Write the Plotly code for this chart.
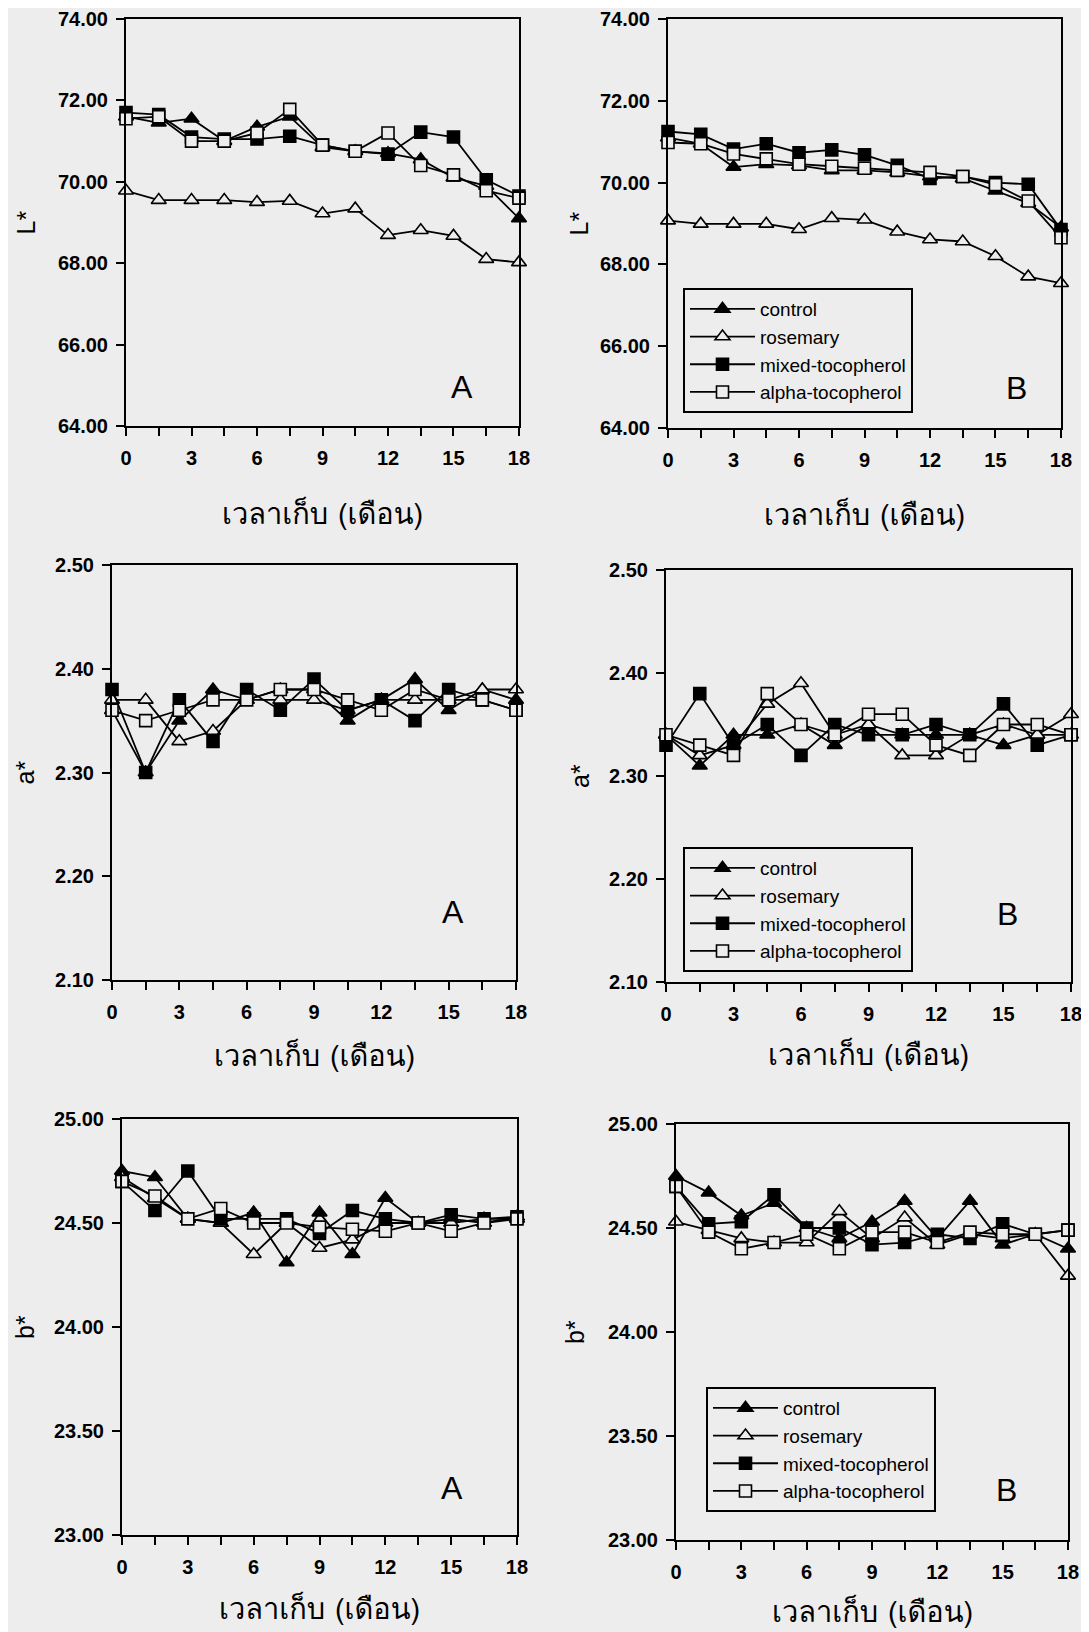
import plotly.graph_objects as go

# ---------------- data ----------------
months = [0, 1.5, 3, 4.5, 6, 7.5, 9, 10.5, 12, 13.5, 15, 16.5, 18]
series_names = ["control", "rosemary", "mixed-tocopherol", "alpha-tocopherol"]

# L* panel A
L_A_control  = [71.60, 71.45, 71.55, 71.00, 71.35, 71.60, 70.85, 70.75, 70.70, 70.55, 70.10, 69.90, 69.10]
L_A_rosemary = [69.78, 69.55, 69.55, 69.55, 69.50, 69.53, 69.22, 69.34, 68.69, 68.81, 68.67, 68.10, 68.02]
L_A_mixed    = [71.70, 71.65, 71.10, 71.05, 71.05, 71.12, 70.90, 70.75, 70.68, 71.22, 71.10, 70.05, 69.65]
L_A_alpha    = [71.55, 71.60, 71.00, 71.00, 71.20, 71.78, 70.90, 70.75, 71.20, 70.40, 70.17, 69.78, 69.60]
# L* panel B
L_B_control  = [71.10, 70.95, 70.38, 70.45, 70.42, 70.30, 70.30, 70.25, 70.15, 70.10, 69.80, 69.50, 68.90]
L_B_rosemary = [69.07, 68.99, 68.99, 68.99, 68.86, 69.13, 69.09, 68.80, 68.61, 68.56, 68.20, 67.70, 67.54]
L_B_mixed    = [71.25, 71.18, 70.82, 70.95, 70.73, 70.80, 70.68, 70.42, 70.10, 70.15, 70.00, 69.96, 68.85]
L_B_alpha    = [70.98, 70.95, 70.70, 70.58, 70.45, 70.40, 70.35, 70.30, 70.25, 70.15, 69.95, 69.55, 68.65]
# a* panel A
a_A_control  = [2.36, 2.30, 2.35, 2.38, 2.37, 2.38, 2.38, 2.35, 2.37, 2.39, 2.36, 2.38, 2.37]
a_A_rosemary = [2.37, 2.37, 2.33, 2.34, 2.37, 2.37, 2.37, 2.36, 2.37, 2.37, 2.37, 2.38, 2.38]
a_A_mixed    = [2.38, 2.30, 2.37, 2.33, 2.38, 2.36, 2.39, 2.36, 2.37, 2.35, 2.38, 2.37, 2.36]
a_A_alpha    = [2.36, 2.35, 2.36, 2.37, 2.37, 2.38, 2.38, 2.37, 2.36, 2.38, 2.37, 2.37, 2.36]
# a* panel B
a_B_control  = [2.34, 2.31, 2.34, 2.34, 2.35, 2.33, 2.35, 2.34, 2.34, 2.34, 2.33, 2.34, 2.34]
a_B_rosemary = [2.34, 2.32, 2.33, 2.37, 2.39, 2.34, 2.35, 2.32, 2.32, 2.34, 2.35, 2.34, 2.36]
a_B_mixed    = [2.33, 2.38, 2.33, 2.35, 2.32, 2.35, 2.34, 2.34, 2.35, 2.34, 2.37, 2.33, 2.34]
a_B_alpha    = [2.34, 2.33, 2.32, 2.38, 2.35, 2.34, 2.36, 2.36, 2.33, 2.32, 2.35, 2.35, 2.34]
# b* panel A
b_A_control  = [24.75, 24.72, 24.52, 24.50, 24.55, 24.31, 24.55, 24.35, 24.62, 24.50, 24.52, 24.50, 24.53]
b_A_rosemary = [24.72, 24.62, 24.52, 24.50, 24.35, 24.50, 24.38, 24.42, 24.50, 24.50, 24.50, 24.52, 24.52]
b_A_mixed    = [24.70, 24.56, 24.75, 24.52, 24.52, 24.52, 24.45, 24.56, 24.52, 24.50, 24.54, 24.52, 24.53]
b_A_alpha    = [24.70, 24.63, 24.52, 24.57, 24.50, 24.50, 24.48, 24.47, 24.46, 24.50, 24.46, 24.50, 24.52]
# b* panel B
b_B_control  = [24.75, 24.67, 24.56, 24.62, 24.50, 24.45, 24.53, 24.63, 24.45, 24.63, 24.42, 24.47, 24.40]
b_B_rosemary = [24.53, 24.49, 24.45, 24.43, 24.43, 24.58, 24.45, 24.55, 24.42, 24.47, 24.45, 24.47, 24.27]
b_B_mixed    = [24.70, 24.52, 24.53, 24.66, 24.50, 24.50, 24.42, 24.43, 24.47, 24.45, 24.52, 24.47, 24.49]
b_B_alpha    = [24.70, 24.48, 24.40, 24.43, 24.47, 24.40, 24.48, 24.48, 24.43, 24.48, 24.47, 24.47, 24.49]

x_tickvals = months
x_ticktext = ["0", "", "3", "", "6", "", "9", "", "12", "", "15", "", "18"]
L_ticks = [64, 66, 68, 70, 72, 74]
a_ticks = [2.10, 2.20, 2.30, 2.40, 2.50]
b_ticks = [23.00, 23.50, 24.00, 24.50, 25.00]

x_title = "เวลาเก็บ (เดือน)"

# ---------------- layout constants ----------------
W, H = 1089, 1632
BG = "#ededed"
OFF = 8  # page body margin compensation (px)

panels = [
    dict(data=[L_A_control, L_A_rosemary, L_A_mixed, L_A_alpha], yt=L_ticks, yt_title="L*", letter="A",
         xpx=(126, 519), ypx=(19, 426), leg=None, lpos=(0.855, 0.096), ytx=25, xto=88),
    dict(data=[L_B_control, L_B_rosemary, L_B_mixed, L_B_alpha], yt=L_ticks, yt_title="L*", letter="B",
         xpx=(668, 1061), ypx=(19, 428), leg="legend", lpos=(0.886, 0.098), ytx=578, xto=87),
    dict(data=[a_A_control, a_A_rosemary, a_A_mixed, a_A_alpha], yt=a_ticks, yt_title="a*", letter="A",
         xpx=(112, 516), ypx=(565, 980), leg=None, lpos=(0.845, 0.164), ytx=24, xto=76),
    dict(data=[a_B_control, a_B_rosemary, a_B_mixed, a_B_alpha], yt=a_ticks, yt_title="a*", letter="B",
         xpx=(666, 1071), ypx=(570, 982), leg="legend2", lpos=(0.843, 0.166), ytx=580, xto=73),
    dict(data=[b_A_control, b_A_rosemary, b_A_mixed, b_A_alpha], yt=b_ticks, yt_title="b*", letter="A",
         xpx=(122, 517), ypx=(1119, 1535), leg=None, lpos=(0.835, 0.113), ytx=25, xto=74),
    dict(data=[b_B_control, b_B_rosemary, b_B_mixed, b_B_alpha], yt=b_ticks, yt_title="b*", letter="B",
         xpx=(676, 1068), ypx=(1124, 1540), leg="legend3", lpos=(0.843, 0.12), ytx=575, xto=72),
]

styles = [
    dict(symbol="triangle-up", color="black"),
    dict(symbol="triangle-up", color=BG),
    dict(symbol="square", color="black"),
    dict(symbol="square", color=BG),
]

legend_pos = {
    "legend": (683, 288),
    "legend2": (683, 847),
    "legend3": (706, 1387),
}


def px_x(v):
    return (v - OFF) / W


def px_y(v):
    return 1 - (v - OFF) / H


fig = go.Figure()
SANS = "Liberation Sans, Arial, sans-serif"
TICK_FONT = dict(family=SANS, size=20, color="black", weight="bold")
THAI_FONT = "Loma, Garuda, Noto Sans Thai Looped, Noto Sans Thai, Tahoma, Liberation Sans, sans-serif"
annotations = []

for i, p in enumerate(panels):
    n = i + 1
    xa = "x" if n == 1 else f"x{n}"
    ya = "y" if n == 1 else f"y{n}"
    leg = p["leg"]
    for vals, st, name in zip(p["data"], styles, series_names):
        fig.add_trace(go.Scatter(
            x=months, y=vals, mode="lines+markers", name=name,
            xaxis=xa, yaxis=ya, cliponaxis=False,
            line=dict(color="black", width=1.8),
            marker=dict(symbol=st["symbol"], color=st["color"],
                        size=12 if "square" in st["symbol"] else 13,
                        line=dict(color="black", width=1.6)),
            showlegend=leg is not None,
            legend=leg if leg else "legend",
        ))
    xpx, ypx, yt = p["xpx"], p["ypx"], p["yt"]
    span = yt[-1] - yt[0]
    lay_x = "xaxis" if n == 1 else f"xaxis{n}"
    lay_y = "yaxis" if n == 1 else f"yaxis{n}"
    fig.layout[lay_x] = dict(
        domain=[px_x(xpx[0]), px_x(xpx[1])], range=[-0.0005, 18.0005], anchor=ya, automargin=False,
        tickmode="array", tickvals=x_tickvals, ticktext=x_ticktext,
        ticks="outside", ticklen=8, tickwidth=2, tickcolor="black",
        showline=True, linecolor="black", linewidth=2, mirror=True,
        showgrid=False, zeroline=False, tickfont=TICK_FONT, ticklabelstandoff=5,
        ticklabeloverflow="allow",
    )
    fig.layout[lay_y] = dict(
        domain=[px_y(ypx[1]), px_y(ypx[0])],
        range=[yt[0] - span * 1e-5, yt[-1] + span * 1e-5], anchor=xa, automargin=False,
        tickmode="array", tickvals=yt, ticktext=[f"{v:.2f}" for v in yt],
        ticks="outside", ticklen=8, tickwidth=2, tickcolor="black",
        showline=True, linecolor="black", linewidth=2, mirror=True,
        showgrid=False, zeroline=False, tickfont=TICK_FONT, ticklabelstandoff=4,
        ticklabeloverflow="allow",
    )
    annotations.append(dict(
        text=p["yt_title"], xref="paper", yref="paper",
        x=px_x(p["ytx"]), y=px_y((ypx[0] + ypx[1]) / 2),
        showarrow=False, textangle=-90, xanchor="center", yanchor="middle",
        font=dict(family=SANS, size=25, color="black"),
    ))
    annotations.append(dict(
        text=x_title, xref="paper", yref="paper",
        x=px_x((xpx[0] + xpx[1]) / 2), y=px_y(ypx[1] + p["xto"]),
        showarrow=False, xanchor="center", yanchor="middle",
        font=dict(family=THAI_FONT, size=29, color="black"),
    ))
    annotations.append(dict(
        text=p["letter"], xref=f"{xa} domain", yref=f"{ya} domain",
        x=p["lpos"][0], y=p["lpos"][1], showarrow=False, xanchor="center", yanchor="middle",
        font=dict(family=SANS, size=32, color="black"),
    ))

legend_common = dict(
    bgcolor=BG, bordercolor="black", borderwidth=2,
    font=dict(family=SANS, size=19, color="black"),
    xanchor="left", yanchor="top", tracegroupgap=0, itemwidth=65,
)
for key, (lx, ly) in legend_pos.items():
    fig.layout[key] = dict(x=px_x(lx), y=px_y(ly), **legend_common)

fig.update_layout(
    width=W, height=H,
    margin=dict(l=0, r=0, t=0, b=0, autoexpand=False),
    paper_bgcolor=BG, plot_bgcolor=BG,
    annotations=annotations,
    showlegend=True,
)

fig.write_html("out.html")
